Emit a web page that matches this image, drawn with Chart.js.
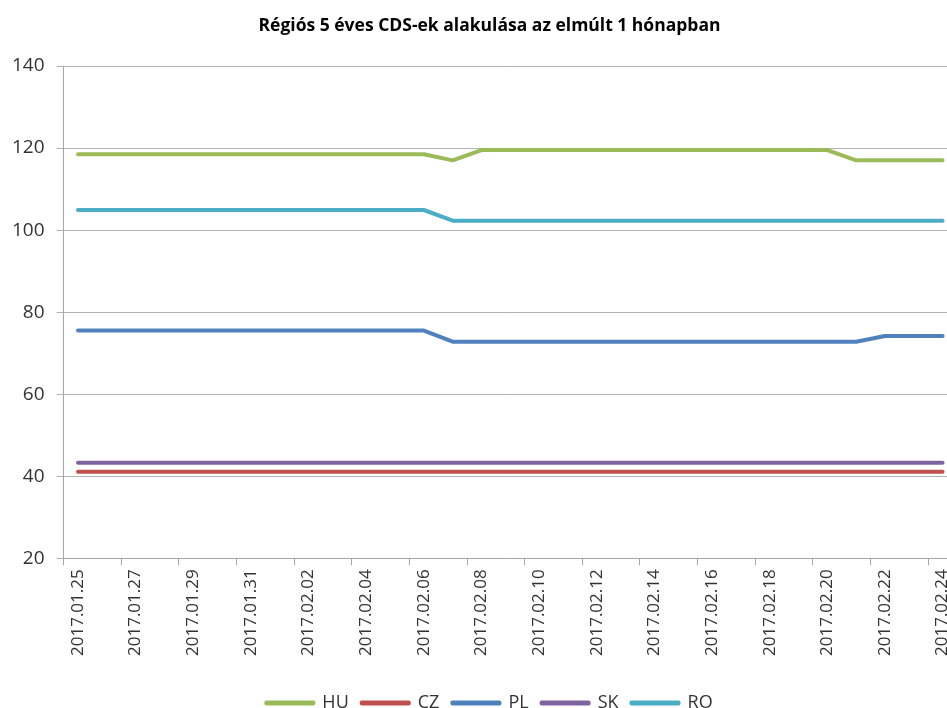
<!DOCTYPE html>
<html>
<head>
<meta charset="utf-8">
<script src="https://cdn.jsdelivr.net/npm/chart.js@4/dist/chart.umd.min.js"></script>
<style>
  html, body { margin: 0; padding: 0; background: #fff; overflow: hidden; }
  #wrap { width: 979px; height: 708px; }
</style>
</head>
<body>
<div id="wrap"><canvas id="c" width="979" height="708"></canvas></div>
<script>
// daily dates, labels shown every 2nd day
const dates = [
  "2017.01.25", "2017.01.26", "2017.01.27", "2017.01.28", "2017.01.29", "2017.01.30",
  "2017.01.31", "2017.02.01", "2017.02.02", "2017.02.03", "2017.02.04", "2017.02.05",
  "2017.02.06", "2017.02.07", "2017.02.08", "2017.02.09", "2017.02.10", "2017.02.11",
  "2017.02.12", "2017.02.13", "2017.02.14", "2017.02.15", "2017.02.16", "2017.02.17",
  "2017.02.18", "2017.02.19", "2017.02.20", "2017.02.21", "2017.02.22", "2017.02.23",
  "2017.02.24"
];

const hu = [118.5, 118.5, 118.5, 118.5, 118.5, 118.5, 118.5, 118.5, 118.5, 118.5, 118.5, 118.5, 118.5,
  117.0, 119.5, 119.5, 119.5, 119.5, 119.5, 119.5, 119.5, 119.5, 119.5, 119.5, 119.5, 119.5, 119.5,
  117.0, 117.0, 117.0, 117.0];
const cz = [41.1, 41.1, 41.1, 41.1, 41.1, 41.1, 41.1, 41.1, 41.1, 41.1, 41.1, 41.1, 41.1, 41.1, 41.1, 41.1,
  41.1, 41.1, 41.1, 41.1, 41.1, 41.1, 41.1, 41.1, 41.1, 41.1, 41.1, 41.1, 41.1, 41.1, 41.1];
const pl = [75.5, 75.5, 75.5, 75.5, 75.5, 75.5, 75.5, 75.5, 75.5, 75.5, 75.5, 75.5, 75.5,
  72.8, 72.8, 72.8, 72.8, 72.8, 72.8, 72.8, 72.8, 72.8, 72.8, 72.8, 72.8, 72.8, 72.8, 72.8,
  74.2, 74.2, 74.2];
const sk = [43.3, 43.3, 43.3, 43.3, 43.3, 43.3, 43.3, 43.3, 43.3, 43.3, 43.3, 43.3, 43.3, 43.3, 43.3, 43.3,
  43.3, 43.3, 43.3, 43.3, 43.3, 43.3, 43.3, 43.3, 43.3, 43.3, 43.3, 43.3, 43.3, 43.3, 43.3];
const ro = [104.9, 104.9, 104.9, 104.9, 104.9, 104.9, 104.9, 104.9, 104.9, 104.9, 104.9, 104.9, 104.9,
  102.3, 102.3, 102.3, 102.3, 102.3, 102.3, 102.3, 102.3, 102.3, 102.3, 102.3, 102.3, 102.3, 102.3,
  102.3, 102.3, 102.3, 102.3];

const yTicks = [20, 40, 60, 80, 100, 120, 140];

const series = [
  { label: "HU", data: hu, color: "#9BBB59" },
  { label: "CZ", data: cz, color: "#C0504D" },
  { label: "PL", data: pl, color: "#4F81BD" },
  { label: "SK", data: sk, color: "#8064A2" },
  { label: "RO", data: ro, color: "#4BACC6" },
];

const font = "'Open Sans', 'DejaVu Sans', sans-serif";

new Chart(document.getElementById("c"), {
  type: "line",
  data: {
    labels: dates,
    datasets: series.map((s) => ({
      label: s.label,
      data: s.data,
      borderColor: s.color,
      backgroundColor: s.color,
      borderWidth: 4,
      borderCapStyle: "round",
      borderJoinStyle: "round",
      pointRadius: 0,
      tension: 0,
    })),
  },
  options: {
    responsive: false,
    animation: false,
    layout: { padding: { left: 0, right: 0, top: 7, bottom: -14 } },
    plugins: {
      title: {
        display: true,
        text: "Régiós 5 éves CDS-ek alakulása az elmúlt 1 hónapban",
        color: "#000",
        font: { family: font, size: 17.5, weight: "bold" },
        padding: { top: 9, bottom: 29 },
      },
      legend: {
        position: "bottom",
        labels: {
          color: "#333",
          font: { family: font, size: 18 },
          boxWidth: 47,
          boxHeight: 1,
          padding: 13,
        },
      },
      tooltip: { enabled: false },
    },
    scales: {
      x: {
        offset: true,
        grid: {
          offset: true,
          drawOnChartArea: false,
          tickLength: 7,
          color: (ctx) => (ctx.index % 2 === 0 ? "#a6a6a6" : "rgba(0,0,0,0)"),
        },
        border: { color: "#a6a6a6" },
        ticks: {
          autoSkip: false,
          minRotation: 90,
          maxRotation: 90,
          padding: 4,
          color: "#333",
          font: { family: font, size: 17 },
          callback: function (value, index) {
            return index % 2 === 0 ? this.getLabelForValue(value) : "";
          },
        },
        // leave some white space between the date labels and the legend
        afterFit: (axis) => {
          axis.height += 21;
        },
      },
      y: {
        min: 20,
        max: 140,
        afterBuildTicks: (axis) => {
          axis.ticks = yTicks.map((v) => ({ value: v }));
        },
        grid: { color: "#b3b3b3", tickLength: 7 },
        border: { color: "#a6a6a6" },
        ticks: {
          padding: 12,
          color: "#333",
          font: { family: font, size: 19 },
        },
      },
      // empty spacer on the right, keeps the plot from reaching the canvas edge
      spacer: {
        position: "right",
        grid: { display: false },
        border: { display: false },
        ticks: { display: false },
        afterFit: (axis) => {
          axis.width = 22;
        },
      },
    },
  },
});
</script>
</body>
</html>
